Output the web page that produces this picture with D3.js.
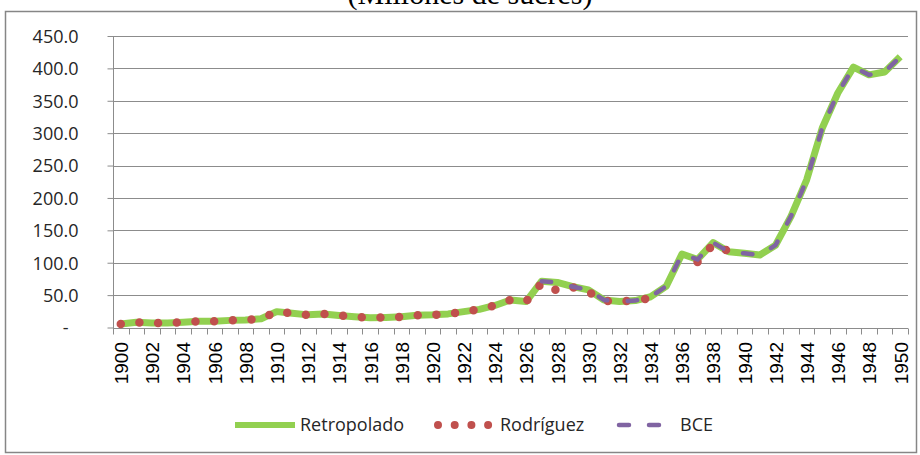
<!DOCTYPE html>
<html>
<head>
<meta charset="utf-8">
<script src="https://cdn.jsdelivr.net/npm/d3@7"></script>
<style>
  body { margin: 0; background: #fff; }
  svg { display: block; }
  .ylab { font-family: "Open Sans", sans-serif; font-size: 18px; fill: #262626; }
  .xlab { font-family: "Liberation Sans", Arial, sans-serif; font-size: 19px; fill: #000; }
  .leg { font-family: "Open Sans", sans-serif; font-size: 18px; fill: #262626; }
  .title { font-family: "Liberation Serif", "Times New Roman", serif; font-size: 30px; fill: #000; }
</style>
</head>
<body>
<svg width="920" height="455"></svg>
<script>
// años (categorías)
const years = [1900, 1901, 1902, 1903, 1904, 1905, 1906, 1907, 1908, 1909,
  1910, 1911, 1912, 1913, 1914, 1915, 1916, 1917, 1918, 1919,
  1920, 1921, 1922, 1923, 1924, 1925, 1926, 1927, 1928, 1929,
  1930, 1931, 1932, 1933, 1934, 1935, 1936, 1937, 1938, 1939,
  1940, 1941, 1942, 1943, 1944, 1945, 1946, 1947, 1948, 1949, 1950]

// serie retropolada 1900-1950
const retropolado = [5.5, 8, 7, 7, 8, 9.5, 9.5, 11, 11.5, 13.5,
  24.5, 22, 19.5, 21, 18.5, 16.5, 15, 15.5, 16.5, 19,
  19.5, 21, 24.5, 28, 34, 42.5, 40, 71.5, 69.5, 63,
  58, 42.5, 40, 41.5, 47.5, 64, 113.5, 105, 131, 117,
  114.5, 112, 127, 172, 228, 308, 362, 402, 390, 394.5, 418]

// Rodríguez 1900-1939 (sin dato 1935-1936)
const rodriguezStart = 1900
const rodriguez = [5.5, 8, 7, 7, 8, 9.5, 9.5, 11, 11.5, 13.5,
  24.5, 22, 19.5, 21, 18.5, 16.5, 15, 15.5, 16.5, 19,
  19.5, 21, 24.5, 28, 34, 42.5, 40, 68.5, 57, 62,
  55, 41, 40, 42, 45, null, null, 101, 128, 118]

// BCE 1927-1950
const bceStart = 1927
const bce = [71.5, 69.5, 63, 58, 42.5, 40, 41.5, 47.5, 64, 113.5,
  105, 131, 117, 114.5, 112, 127, 172, 228, 308, 362, 402, 390, 394.5, 418]

const yTicks = [0, 50, 100, 150, 200, 250, 300, 350, 400, 450]

const svg = d3.select("svg")

// marco del gráfico
svg.append("rect")
    .attr("x", 5.5)
    .attr("y", 11.5)
    .attr("width", 911)
    .attr("height", 441)
    .attr("fill", "none")
    .attr("stroke", "#868686")
    .attr("stroke-width", 1.5)

svg.append("text")
    .attr("class", "title")
    .attr("x", 470)
    .attr("y", 4)
    .attr("text-anchor", "middle")
    .text("(Millones de sucres)")

const x = d3.scaleBand()
    .domain(years)
    .range([113, 908])

const y = d3.scaleLinear()
    .domain([0, 450])
    .range([327.5, 36])

const cx = d => x(d) + x.bandwidth() / 2

// líneas de cuadrícula
svg.append("g")
    .selectAll("line")
    .data(yTicks.slice(1))
    .enter()
    .append("line")
    .attr("x1", 113)
    .attr("x2", 908)
    .attr("y1", d => Math.round(y(d)) + 0.5)
    .attr("y2", d => Math.round(y(d)) + 0.5)
    .attr("stroke", "#8c8c8c")
    .attr("stroke-width", 1)

// eje y
const yAxis = svg.append("g")
    .attr("transform", "translate(113.5,0)")
    .call(d3.axisLeft(y)
        .tickValues(yTicks)
        .tickSize(6)
        .tickPadding(29)
        .tickFormat(d => d === 0 ? "-" : d3.format(".1f")(d)))

yAxis.select(".domain").attr("stroke", "#8c8c8c").attr("d", "M0,36V328")
yAxis.selectAll(".tick line").attr("stroke", "#8c8c8c")
yAxis.selectAll(".tick text")
    .attr("class", "ylab")
    .attr("font-family", null)
    .attr("font-size", null)
    .attr("fill", null)
    .attr("dy", "0.35em")
yAxis.selectAll(".tick text").filter(d => d === 0).attr("x", -45)

// eje x
const xAxisY = 328.5
svg.append("line")
    .attr("x1", 113)
    .attr("x2", 908)
    .attr("y1", xAxisY)
    .attr("y2", xAxisY)
    .attr("stroke", "#8c8c8c")

svg.append("g")
    .selectAll("line")
    .data(years.concat(["end"]))
    .enter()
    .append("line")
    .attr("x1", d => (d === "end" ? 908 : Math.round(x(d))) + 0.5)
    .attr("x2", d => (d === "end" ? 908 : Math.round(x(d))) + 0.5)
    .attr("y1", xAxisY)
    .attr("y2", xAxisY + 6)
    .attr("stroke", "#8c8c8c")

svg.append("g")
    .selectAll("text")
    .data(years.filter(d => d % 2 === 0))
    .enter()
    .append("text")
    .attr("class", "xlab")
    .attr("text-anchor", "end")
    .attr("transform", d => `translate(${cx(d) + 7.3},342) rotate(-90)`)
    .text(d => d)

// series
const line = d3.line()
    .defined(d => d.value != null)
    .x(d => cx(d.year))
    .y(d => y(d.value))

const retroData = years.map((yr, i) => ({ year: yr, value: retropolado[i] }))
const rodData = rodriguez.map((v, i) => ({ year: rodriguezStart + i, value: v }))
const bceData = bce.map((v, i) => ({ year: bceStart + i, value: v }))

svg.append("path")
    .datum(retroData)
    .attr("d", line)
    .attr("fill", "none")
    .attr("stroke", "#92d050")
    .attr("stroke-width", 7)
    .attr("stroke-linejoin", "round")

svg.append("path")
    .datum(rodData)
    .attr("d", line)
    .attr("fill", "none")
    .attr("stroke", "#c0504d")
    .attr("stroke-width", 8.5)
    .attr("stroke-linecap", "round")
    .attr("stroke-dasharray", "0 18.7")

svg.append("path")
    .datum(bceData)
    .attr("d", line)
    .attr("fill", "none")
    .attr("stroke", "#8064a2")
    .attr("stroke-width", 4.5)
    .attr("stroke-linecap", "round")
    .attr("stroke-dasharray", "9.5 20.5")

// leyenda
const legY = 425
svg.append("line")
    .attr("x1", 235).attr("x2", 295)
    .attr("y1", legY).attr("y2", legY)
    .attr("stroke", "#92d050")
    .attr("stroke-width", 6)

svg.append("text").attr("class", "leg")
    .attr("x", 300).attr("y", legY).attr("dy", "0.35em")
    .text("Retropolado")

svg.append("line")
    .attr("x1", 438).attr("x2", 489)
    .attr("y1", legY).attr("y2", legY)
    .attr("stroke", "#c0504d")
    .attr("stroke-width", 8)
    .attr("stroke-linecap", "round")
    .attr("stroke-dasharray", "0 16.7")

svg.append("text").attr("class", "leg")
    .attr("x", 500).attr("y", legY).attr("dy", "0.35em")
    .text("Rodríguez")

svg.append("line")
    .attr("x1", 619).attr("x2", 660)
    .attr("y1", legY).attr("y2", legY)
    .attr("stroke", "#8064a2")
    .attr("stroke-width", 4.5)
    .attr("stroke-linecap", "round")
    .attr("stroke-dasharray", "10 20")

svg.append("text").attr("class", "leg")
    .attr("x", 680).attr("y", legY).attr("dy", "0.35em")
    .text("BCE")
</script>
</body>
</html>
